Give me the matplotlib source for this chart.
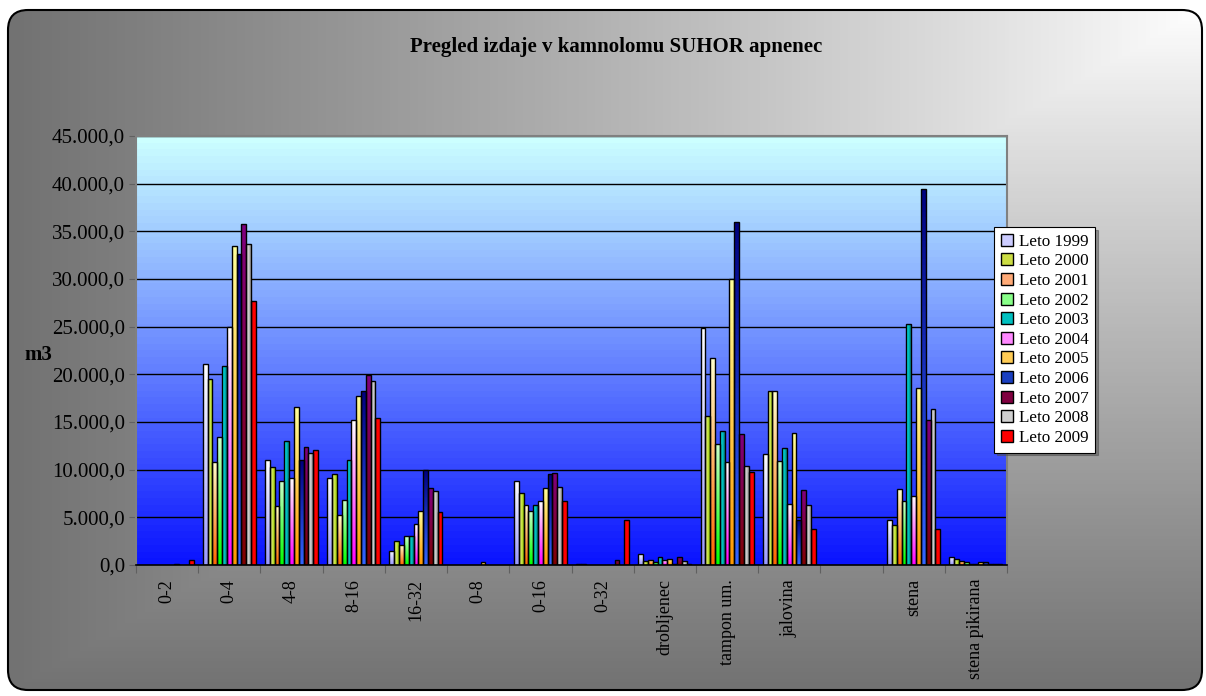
import numpy as np
import matplotlib
matplotlib.use('Agg')
import matplotlib.pyplot as plt
from matplotlib.patches import FancyBboxPatch, Patch
from matplotlib.colors import to_rgb
from matplotlib.ticker import FuncFormatter

plt.rcParams['font.family'] = ['Liberation Serif', 'DejaVu Serif']

categories = ['0-2', '0-4', '4-8', '8-16', '16-32', '0-8', '0-16', '0-32',
              'drobljenec', 'tampon um.', 'jalovina', '', 'stena', 'stena pikirana']
years = ['Leto 1999', 'Leto 2000', 'Leto 2001', 'Leto 2002', 'Leto 2003', 'Leto 2004',
         'Leto 2005', 'Leto 2006', 'Leto 2007', 'Leto 2008', 'Leto 2009']

leto_1999 = [0, 21100, 11000, 9100, 1500, 0, 8800, 150, 1200, 24900, 11600, 0, 4750, 850]
leto_2000 = [0, 19500, 10300, 9500, 2500, 0, 7550, 150, 400, 15650, 18300, 0, 4200, 630]
leto_2001 = [0, 10800, 6150, 5200, 2050, 0, 6300, 0, 550, 21700, 18300, 0, 7950, 420]
leto_2002 = [0, 13400, 8800, 6850, 3000, 0, 5700, 0, 350, 12700, 10900, 0, 6700, 280]
leto_2003 = [0, 20900, 13000, 11000, 3000, 0, 6300, 0, 800, 14100, 12300, 0, 25300, 100]
leto_2004 = [0, 25000, 9100, 15200, 4300, 0, 6700, 0, 500, 10800, 6400, 0, 7250, 80]
leto_2005 = [0, 33500, 16600, 17750, 5700, 280, 8100, 0, 650, 30050, 13800, 0, 18600, 280]
leto_2006 = [100, 32600, 11000, 18300, 9950, 0, 9500, 0, 150, 35950, 4750, 0, 39450, 280]
leto_2007 = [0, 35800, 12400, 19900, 8050, 0, 9600, 550, 800, 13700, 7900, 0, 15200, 150]
leto_2008 = [0, 33700, 11700, 19300, 7800, 0, 8200, 0, 400, 10350, 6300, 0, 16350, 100]
leto_2009 = [550, 27700, 12100, 15400, 5550, 0, 6700, 4700, 150, 9800, 3800, 0, 3800, 100]

series = [leto_1999, leto_2000, leto_2001, leto_2002, leto_2003, leto_2004,
          leto_2005, leto_2006, leto_2007, leto_2008, leto_2009]

# gradient fills: (first colour, second colour, direction, legend colour)
fills = [
    ('#ffffff', '#9999ff', 'v', '#ccccff'),
    ('#ffff99', '#99cc00', 'h', '#ccdd44'),
    ('#ffffcc', '#ff6600', 'v', '#ffaa77'),
    ('#ccffcc', '#00ff00', 'v', '#88ff88'),
    ('#00ffff', '#008080', 'h', '#00c0c0'),
    ('#ffffff', '#ff00ff', 'v', '#ff88ff'),
    ('#ffff99', '#ff9900', 'v', '#ffcc55'),
    ('#000080', '#3366ff', 'v', '#1a3fc0'),
    ('#800080', '#800000', 'v', '#800040'),
    ('#ffffff', '#969696', 'h', '#d0d0d0'),
    ('#ff0000', '#ff0000', 'v', '#ff0000'),
]


def gradient(c1, c2, direction, n=64):
    t = np.linspace(0, 1, n)[:, None]
    arr = (1 - t) * np.array(to_rgb(c1)) + t * np.array(to_rgb(c2))
    if direction == 'v':
        return arr[:, None, :]
    return arr[None, :, :]


W, H = 1206, 696
fig = plt.figure(figsize=(W / 100, H / 100), dpi=100)
fig.patch.set_facecolor('white')

# background frame with corner gradient
bg = fig.add_axes([0, 0, 1, 1])
bg.set_xlim(0, W)
bg.set_ylim(H, 0)
bg.axis('off')
xx, yy = np.meshgrid(np.linspace(0, W, 300), np.linspace(0, H, 200))
t = np.maximum((1202 - xx) / 1190, (yy - 10) / 680).clip(0, 1) ** 0.9
dark = np.array(to_rgb('#727272'))
img = (1 - t)[..., None] * np.ones(3) + t[..., None] * dark
frame = FancyBboxPatch((22, 24), 1166, 652, boxstyle='round,pad=14,rounding_size=20',
                       facecolor='none', edgecolor='black', linewidth=1.5, zorder=3)
bg.add_patch(frame)
im = bg.imshow(img, extent=(0, W, H, 0), aspect='auto', zorder=1)
im.set_clip_path(frame)

ax = fig.add_axes([136 / W, 1 - 565 / H, 871 / W, 429 / H])
n_cat = len(categories)
n_ser = len(series)
ax.set_xlim(0, n_cat)
ax.set_ylim(0, 45000)

# plot area gradient
ax.imshow(gradient('#ccffff', '#0a14ff', 'v'), extent=(0, n_cat, 0, 45000),
          aspect='auto', zorder=0)
for v in range(5000, 45001, 5000):
    ax.axhline(v, color='black', linewidth=1.0, zorder=1)

group_w = 0.852
bar_w = group_w / n_ser
x = np.arange(n_cat) + 0.5
for i, (vals, (c1, c2, d, _)) in enumerate(zip(series, fills)):
    pos = x - group_w / 2 + bar_w * (i + 0.5)
    bars = ax.bar(pos, vals, width=bar_w, facecolor='none', edgecolor='black',
                  linewidth=1.0, zorder=3)
    grad = gradient(c1, c2, d)
    for b, v in zip(bars, vals):
        if v <= 0:
            b.set_visible(False)
            continue
        bx, by = b.get_x(), b.get_y()
        gi = ax.imshow(grad, extent=(bx, bx + b.get_width(), by, by + b.get_height()),
                       aspect='auto', zorder=2.5)
        gi.set_clip_path(b)

ax.set_xlim(0, n_cat)
ax.set_ylim(0, 45000)

for s in ['top', 'right', 'left']:
    ax.spines[s].set_color('#808080')
    ax.spines[s].set_linewidth(1.5)
ax.spines['bottom'].set_color('black')
ax.spines['bottom'].set_linewidth(1.2)

ax.set_yticks(range(0, 45001, 5000))
ax.yaxis.set_major_formatter(FuncFormatter(
    lambda v, p: f'{v:,.1f}'.replace(',', ' ').replace('.', ',').replace(' ', '.')))
ax.tick_params(axis='y', labelsize=15, length=5, color='#606060', pad=3)

ax.set_xticks(np.arange(n_cat + 1))
ax.set_xticklabels([])
ax.tick_params(axis='x', which='major', length=6, color='#606060')
ax.set_xticks(x, minor=True)
ax.set_xticklabels(categories, minor=True, rotation=90, fontsize=13, va='top')
ax.tick_params(axis='x', which='minor', length=0, pad=10)

fig.text(616 / W, 1 - 47 / H, 'Pregled izdaje v kamnolomu SUHOR apnenec',
         ha='center', va='center', fontsize=15, fontweight='bold')
fig.text(38 / W, 1 - 355 / H, 'm3', ha='center', va='center', fontsize=15,
         fontweight='bold')

handles = [Patch(facecolor=f[3], edgecolor='black', linewidth=1.0) for f in fills]
leg = fig.legend(handles, years, loc='upper left',
                 bbox_to_anchor=(994 / W, 1 - 227 / H), borderaxespad=0,
                 fontsize=12.3, frameon=True, fancybox=False, shadow=True,
                 handlelength=0.7, handleheight=0.7, handletextpad=0.35,
                 labelspacing=0.21, borderpad=0.4)
leg.get_frame().set_edgecolor('black')
leg.get_frame().set_linewidth(0.8)

fig.savefig('out.png', dpi=100)
